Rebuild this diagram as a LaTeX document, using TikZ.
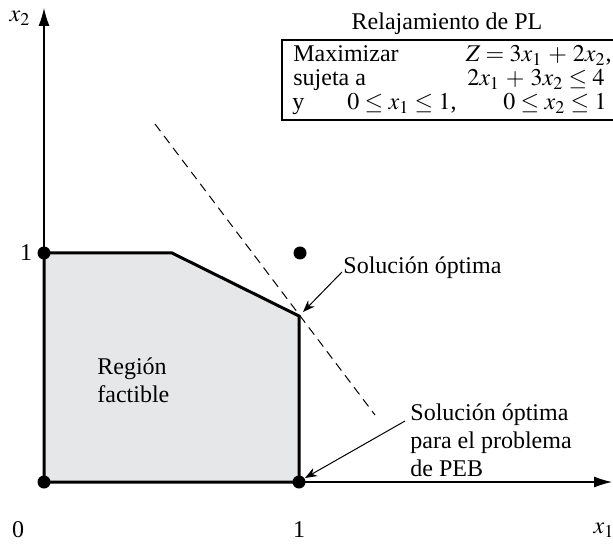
\documentclass[tikz,border=0pt]{standalone}
\usepackage{mathptmx}
\usepackage{fontspec}
\setmainfont{Liberation Serif}
\usetikzlibrary{arrows.meta,positioning,calc}
\definecolor{cR}{HTML}{E6E7E9}
\tikzset{
  dot/.style={circle,fill=black,inner sep=0pt,minimum size=6.5pt},
  axis/.style={-{Latex[length=9pt,width=5.5pt]},line width=0.6pt},
  border/.style={line width=1.5pt,line join=miter},
  lbl/.style={font=\fontsize{12}{14.2}\selectfont,inner sep=0pt},
  ptr/.style={-{Stealth[length=6pt,width=4.5pt]},line width=0.5pt},
  obj/.style={dash pattern=on 4.5pt off 3pt,line width=0.5pt},
  plbox/.style={line width=0.6pt},
}

\begin{document}
\begin{tikzpicture}[x=0.5pt,y=-0.5pt,every node/.style={lbl}]
  \useasboundingbox (0,0) rectangle (613,544);
  % ejes
  \coordinate (o) at (44,482);
  \coordinate (xend) at (612,482);
  \coordinate (yend) at (44,8);
  \draw[axis] (o) -- (xend);
  \draw[axis] (o) -- (yend);

  % region factible
  \coordinate (a) at (299,482);
  \coordinate (b) at (299,316);
  \coordinate (c) at (172,253);
  \coordinate (d) at (44,253);
  \filldraw[fill=cR,border] (o) -- (a) -- (b) -- (c) -- (d) -- cycle;

  % recta de la funcion objetivo
  \coordinate (zt) at (155,124);
  \coordinate (zb) at (375,415);
  \draw[obj] (zt) -- (zb);

  \node[dot] (p00) at (o) {};
  \node[dot] (p10) at (a) {};
  \node[dot] (p01) at (d) {};
  \node[dot] (p11) at (300,253) {};

  \node (x2) at (20,18) {$x_2$};
  \node (x1) at (604,530) {$x_1$};
  \node (n0) at (18,530) {0};
  \node (n1) at (299,530) {1};
  \node (m1) at (26,253) {1};

  \node[align=left,anchor=west] (reg) at (97,380) {Región\\factible};

  \node[anchor=west] (opt) at (343,268) {Solución óptima};
  \coordinate (optend) at ($(b)+(4,-4)$);
  \draw[ptr] ($(opt.west)+(-1,4)$) -- (optend);

  \node[anchor=north west,align=left] (peb) at (410,403) {Solución óptima\\para el problema\\de PEB};
  \coordinate (pebend) at ($(a)+(6,-4)$);
  \draw[ptr] ($(peb.north west)+(-5,18)$) -- (pebend);

  % relajamiento
  \node[anchor=base] (tit) at (447,30) {Relajamiento de PL};
  \draw[plbox] (282,40) rectangle (620,120);
  \node[anchor=base west] (mx) at (293,62) {Maximizar};
  \node[anchor=base east] (fo) at (612,62) {$Z = 3x_1 \,+\, 2x_2$,};
  \node[anchor=base west] (sj) at (293,86) {sujeta a};
  \node[anchor=base east] (rs) at (605,86) {$2x_1 \,+\, 3x_2 \le 4$};
  \node[anchor=base west] (yy) at (292,110) {y};
  \node[anchor=base west] (c1) at (347,110) {$0 \le x_1 \le 1$,};
  \node[anchor=base east] (c2) at (607,110) {$0 \le x_2 \le 1$};
\end{tikzpicture}
\end{document}
